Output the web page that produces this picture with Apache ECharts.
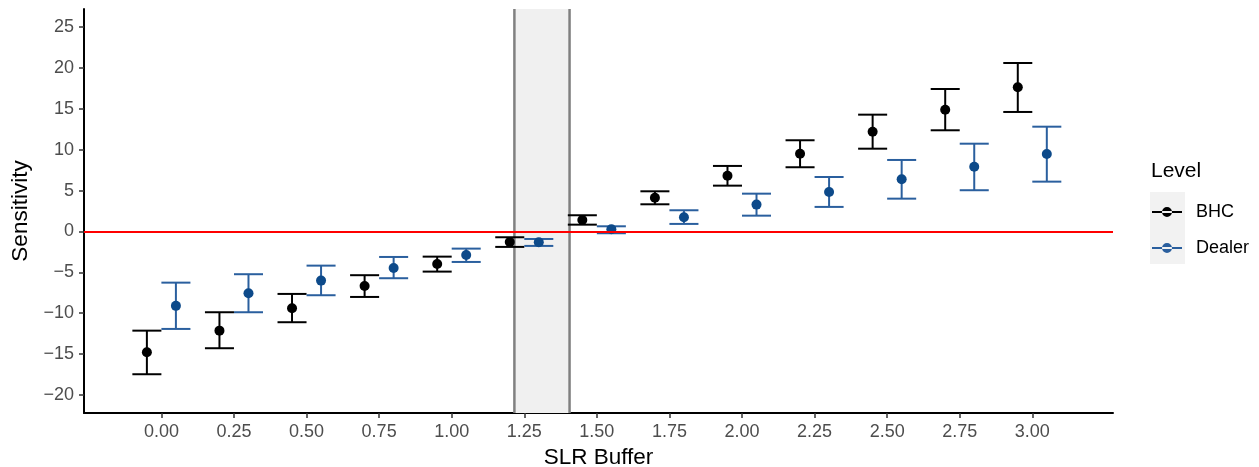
<!DOCTYPE html>
<html>
<head>
<meta charset="utf-8">
<script src="https://cdn.jsdelivr.net/npm/echarts@6/dist/echarts.min.js"></script>
<style>
  html, body { margin: 0; padding: 0; background: #fff; }
  #chart { width: 1259px; height: 467px; }
</style>
</head>
<body>
<div id="chart"></div>
<script>
// SLR buffer levels (x)
const buffers = [0, 0.25, 0.5, 0.75, 1.0, 1.25, 1.5, 1.75, 2.0, 2.25, 2.5, 2.75, 3.0];

// BHC: estimate, lower, upper
const bhcEst = [-14.77, -12.13, -9.39, -6.66, -3.97, -1.28, 1.41, 4.13, 6.82, 9.51, 12.2, 14.89, 17.63];
const bhcLow = [-17.46, -14.28, -11.1, -8.01, -4.91, -1.89, 0.83, 3.32, 5.6, 7.85, 10.12, 12.37, 14.61];
const bhcHigh = [-12.13, -9.88, -7.64, -5.35, -3.08, -0.71, 1.98, 4.91, 8.01, 11.15, 14.28, 17.42, 20.6];

// Dealer: estimate, lower, upper
const dealerEst = [-9.1, -7.56, -6.01, -4.46, -2.87, -1.32, 0.27, 1.73, 3.28, 4.83, 6.38, 7.92, 9.47];
const dealerLow = [-11.92, -9.88, -7.8, -5.72, -3.73, -1.77, -0.22, 0.92, 1.93, 3.0, 4.01, 5.04, 6.09];
const dealerHigh = [-6.26, -5.23, -4.18, -3.12, -2.1, -0.92, 0.63, 2.59, 4.62, 6.66, 8.74, 10.73, 12.81];

const xTicks = [0, 0.25, 0.5, 0.75, 1.0, 1.25, 1.5, 1.75, 2.0, 2.25, 2.5, 2.75, 3.0];
const yTicks = [-20, -15, -10, -5, 0, 5, 10, 15, 20, 25];

// highlighted band of buffers
const shadeRange = [1.216, 1.406];

const dodge = 0.05;   // ggplot position_dodge offset
const capHalf = 0.05; // half width of the error bar caps

const colors = { BHC: '#000000', Dealer: '#2a5f9e' };
const pointColors = { BHC: '#000000', Dealer: '#0d4a8a' };

const chart = echarts.init(document.getElementById('chart'), null, { renderer: 'canvas' });

const errData = (low, high, off) => buffers.map((b, i) => [b + off, low[i], high[i]]);
const ptData = (est, off) => buffers.map((b, i) => [b + off, est[i]]);

const errorBars = (name, data) => ({
  name: name,
  type: 'custom',
  z: 3,
  data: data,
  encode: { x: 0, y: [1, 2] },
  renderItem: (params, api) => {
    const x = api.value(0);
    const lo = api.coord([x, api.value(1)]);
    const hi = api.coord([x, api.value(2)]);
    const l = api.coord([x - capHalf, api.value(1)])[0];
    const r = api.coord([x + capHalf, api.value(1)])[0];
    const style = { stroke: colors[name], lineWidth: 2, fill: null };
    return {
      type: 'group',
      children: [
        { type: 'line', shape: { x1: lo[0], y1: lo[1], x2: hi[0], y2: hi[1] }, style: style },
        { type: 'line', shape: { x1: l, y1: lo[1], x2: r, y2: lo[1] }, style: style },
        { type: 'line', shape: { x1: l, y1: hi[1], x2: r, y2: hi[1] }, style: style }
      ]
    };
  }
});

const points = (name, data) => ({
  name: name,
  type: 'scatter',
  z: 4,
  data: data,
  symbolSize: 10,
  itemStyle: { color: pointColors[name], opacity: 1 }
});

// legend key: line with a dot in the middle
const legendIcon = 'path://M0,4h30v2h-30z M10,5a5,5 0 1,0 10,0a5,5 0 1,0 -10,0z';

const option = {
  animation: false,
  textStyle: { fontFamily: 'Liberation Sans, Arial, sans-serif' },
  // v6 shrinks the grid to keep axis names inside, turn that off
  grid: { left: 84, top: 9, right: 146, bottom: 54, containLabel: false, outerBoundsMode: 'none' },
  title: {
    text: 'Level',
    left: 1146,
    top: 156,
    textStyle: { fontSize: 21, fontWeight: 'normal', color: '#000', fontFamily: 'Liberation Sans, Arial, sans-serif' }
  },
  legend: {
    orient: 'vertical',
    left: 1152,
    top: 203,
    padding: 0,
    itemWidth: 30,
    itemHeight: 10,
    itemGap: 18,
    selectedMode: false,
    textStyle: { fontSize: 18, color: '#000', padding: [0, 0, 0, 9] },
    data: [
      { name: 'BHC', icon: legendIcon, itemStyle: { color: colors.BHC } },
      { name: 'Dealer', icon: legendIcon, itemStyle: { color: colors.Dealer } }
    ]
  },
  graphic: [
    { type: 'rect', left: 1150, top: 192, z: -1, shape: { width: 35, height: 72 }, style: { fill: '#f2f2f2' } }
  ],
  xAxis: {
    type: 'value',
    min: -0.2666,
    max: 3.278,
    name: 'SLR Buffer',
    nameLocation: 'middle',
    nameGap: 33,
    nameTextStyle: { fontSize: 22.5, color: '#000' },
    splitLine: { show: false },
    axisLine: { show: true, onZero: false, lineStyle: { color: '#000', width: 2 } },
    axisTick: { show: true, customValues: xTicks, length: 5, lineStyle: { color: '#333', width: 1.5 } },
    axisLabel: {
      customValues: xTicks,
      fontSize: 18,
      color: '#4d4d4d',
      margin: 10,
      formatter: v => v.toFixed(2)
    }
  },
  yAxis: {
    type: 'value',
    min: -22.2,
    max: 27.2,
    name: 'Sensitivity',
    nameLocation: 'middle',
    nameGap: 46,
    nameRotate: 90,
    nameTextStyle: { fontSize: 22.5, color: '#000' },
    splitLine: { show: false },
    axisLine: { show: true, onZero: false, lineStyle: { color: '#000', width: 2 } },
    axisTick: { show: true, customValues: yTicks, length: 5, lineStyle: { color: '#333', width: 1.5 } },
    axisLabel: {
      customValues: yTicks,
      fontSize: 18,
      color: '#4d4d4d',
      margin: 10,
      formatter: v => (v < 0 ? '\u2212' + Math.abs(v) : String(v))
    }
  },
  series: [
    {
      name: 'shade',
      type: 'custom',
      z: 1,
      silent: true,
      data: [shadeRange],
      renderItem: (params, api) => {
        const cs = params.coordSys;
        const x0 = api.coord([api.value(0), 0])[0];
        const x1 = api.coord([api.value(1), 0])[0];
        const top = cs.y;
        const bottom = cs.y + cs.height;
        const edge = { stroke: '#808080', lineWidth: 2.5 };
        return {
          type: 'group',
          children: [
            { type: 'rect', shape: { x: x0, y: top, width: x1 - x0, height: bottom - top }, style: { fill: '#f0f0f0' } },
            { type: 'line', shape: { x1: x0, y1: top, x2: x0, y2: bottom }, style: edge },
            { type: 'line', shape: { x1: x1, y1: top, x2: x1, y2: bottom }, style: edge }
          ]
        };
      }
    },
    {
      name: 'zero',
      type: 'line',
      z: 2,
      data: [],
      markLine: {
        silent: true,
        symbol: 'none',
        label: { show: false },
        lineStyle: { color: '#ff0000', width: 1.8, type: 'solid' },
        data: [{ yAxis: 0 }]
      }
    },
    errorBars('BHC', errData(bhcLow, bhcHigh, -dodge)),
    errorBars('Dealer', errData(dealerLow, dealerHigh, dodge)),
    points('BHC', ptData(bhcEst, -dodge)),
    points('Dealer', ptData(dealerEst, dodge))
  ]
};

chart.setOption(option);
</script>
</body>
</html>
